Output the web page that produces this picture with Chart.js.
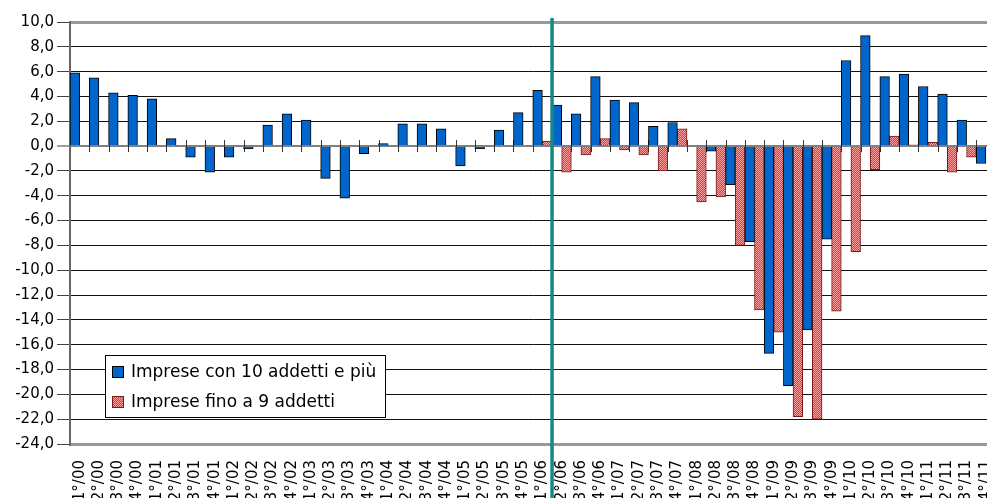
<!DOCTYPE html>
<html>
<head>
<meta charset="utf-8">
<script src="https://cdn.jsdelivr.net/npm/chart.js@4.4.1/dist/chart.umd.min.js"></script>
<style>
  html, body { margin: 0; padding: 0; background: #fff; overflow: hidden; width: 987px; height: 498px; }
  #wrap { position: relative; width: 1012px; height: 512px; }
</style>
</head>
<body>
<div id="wrap"><canvas id="congiuntura"></canvas></div>
<script>
// Trimestri
const labels = [
  '1°/00','2°/00','3°/00','4°/00','1°/01','2°/01','3°/01','4°/01',
  '1°/02','2°/02','3°/02','4°/02','1°/03','2°/03','3°/03','4°/03',
  '1°/04','2°/04','3°/04','4°/04','1°/05','2°/05','3°/05','4°/05',
  '1°/06','2°/06','3°/06','4°/06','1°/07','2°/07','3°/07','4°/07',
  '1°/08','2°/08','3°/08','4°/08','1°/09','2°/09','3°/09','4°/09',
  '1°/10','2°/10','3°/10','4°/10','1°/11','2°/11','3°/11','4°/11'
];

// Imprese con 10 addetti e più
const grandi = [
  5.9, 5.5, 4.3, 4.1, 3.8, 0.6, -0.9, -2.1,
  -0.9, -0.2, 1.7, 2.6, 2.1, -2.6, -4.2, -0.6,
  0.2, 1.8, 1.8, 1.4, -1.6, -0.2, 1.3, 2.7,
  4.5, 3.3, 2.6, 5.6, 3.7, 3.5, 1.6, 1.9,
  0.0, -0.4, -3.1, -7.7, -16.7, -19.3, -14.8, -7.5,
  6.9, 8.9, 5.6, 5.8, 4.8, 4.2, 2.1, -1.4
];

// Imprese fino a 9 addetti (serie dal 1°/06)
const piccole = [
  null, null, null, null, null, null, null, null,
  null, null, null, null, null, null, null, null,
  null, null, null, null, null, null, null, null,
  0.4, -2.1, -0.7, 0.6, -0.3, -0.7, -2.0, 1.4,
  -4.5, -4.1, -8.0, -13.2, -15.0, -21.8, -22.0, -13.3,
  -8.5, -1.9, 0.8, 0.1, 0.3, -2.1, -0.9, null
];

// indice del trimestre dopo il quale c'è la linea verticale
const stacco = 24;

function retino() {
  const c = document.createElement('canvas');
  c.width = 2; c.height = 2;
  const g = c.getContext('2d');
  g.fillStyle = '#ff2a2a';
  g.fillRect(0, 0, 2, 2);
  g.fillStyle = '#ffa0a0';
  g.fillRect(0, 0, 1, 1);
  g.fillRect(1, 1, 1, 1);
  return g.createPattern(c, 'repeat');
}
const rosa = retino();

const fontFam = '"DejaVu Sans", Tahoma, sans-serif';

// tacche sull'asse dello zero, linea verticale e legenda
const extras = {
  id: 'extras',
  beforeDatasetsDraw(chart) {
    const ctx = chart.ctx, x = chart.scales.x, y = chart.scales.y;
    const y0 = y.getPixelForValue(0);
    const w = x.getPixelForValue(1) - x.getPixelForValue(0);
    ctx.save();
    ctx.strokeStyle = '#333';
    ctx.lineWidth = 1;
    for (let i = 1; i < labels.length; i++) {
      const px = Math.round(x.getPixelForValue(i) - w / 2) + 0.5;
      ctx.beginPath();
      ctx.moveTo(px, y0 - 6);
      ctx.lineTo(px, y0 + 6);
      ctx.stroke();
    }
    ctx.restore();
  },
  afterDraw(chart) {
    const ctx = chart.ctx, x = chart.scales.x, area = chart.chartArea;
    const px = (x.getPixelForValue(stacco) + x.getPixelForValue(stacco + 1)) / 2;
    ctx.save();
    ctx.strokeStyle = '#138a84';
    ctx.lineWidth = 3.5;
    ctx.beginPath();
    ctx.moveTo(px, area.top - 4);
    ctx.lineTo(px, chart.height);
    ctx.stroke();

    // legenda
    const bx = 105, by = 355, bw = 280, bh = 62;
    ctx.fillStyle = '#fff';
    ctx.fillRect(bx, by, bw, bh);
    ctx.strokeStyle = '#000';
    ctx.lineWidth = 1;
    ctx.strokeRect(bx + 0.5, by + 0.5, bw, bh);
    ctx.font = '17px ' + fontFam;
    ctx.textBaseline = 'middle';
    chart.data.datasets.forEach((ds, i) => {
      const cy = by + 17 + i * 30;
      ctx.fillStyle = ds.backgroundColor;
      ctx.fillRect(bx + 7, cy - 6, 12, 12);
      ctx.strokeStyle = ds.borderColor;
      ctx.strokeRect(bx + 7.5, cy - 5.5, 11, 11);
      ctx.fillStyle = '#000';
      ctx.fillText(ds.label, bx + 26, cy + 1);
    });
    ctx.restore();
  }
};

const data = {
  labels: labels,
  datasets: [{
    label: 'Imprese con 10 addetti e più',
    data: grandi,
    backgroundColor: '#0066cc',
    borderColor: '#000',
    borderWidth: 1,
    categoryPercentage: 1.0,
    barPercentage: 1.0
  }, {
    label: 'Imprese fino a 9 addetti',
    data: piccole,
    backgroundColor: rosa,
    borderColor: '#7a1818',
    borderWidth: 1,
    categoryPercentage: 1.0,
    barPercentage: 1.0
  }]
};

const options = {
  responsive: true,
  maintainAspectRatio: false,
  animation: false,
  layout: { padding: { top: 22, right: 12, bottom: 0, left: 0 } },
  plugins: {
    legend: { display: false },
    tooltip: { enabled: false }
  },
  scales: {
    x: {
      grid: { display: false },
      border: { display: false },
      ticks: {
        autoSkip: false,
        maxRotation: 90,
        minRotation: 90,
        padding: 8,
        color: '#000',
        font: { family: fontFam, size: 15 }
      },
      afterFit(scale) { scale.height = 68; }
    },
    y: {
      min: -24,
      max: 10,
      ticks: {
        stepSize: 2,
        padding: 3,
        color: '#000',
        font: { family: fontFam, size: 15 },
        callback: (v) => v.toFixed(1).replace('.', ',')
      },
      grid: {
        color: (c) => {
          const v = c.tick.value;
          if (v === 10 || v === -24) return '#999';
          if (v === 0) return '#808080';
          return '#111';
        },
        lineWidth: (c) => {
          const v = c.tick.value;
          if (v === 10 || v === -24) return 3;
          if (v === 0) return 2;
          return 1;
        },
        tickColor: '#444',
        tickWidth: 1,
        tickLength: 13
      },
      border: { display: true, color: '#666', width: 2 },
      afterFit(scale) { scale.width = 70; }
    }
  }
};

const config = {
  type: 'bar',
  data: data,
  options: options,
  plugins: [extras]
};

const chart = new Chart(document.getElementById('congiuntura'), config);
</script>
</body>
</html>
